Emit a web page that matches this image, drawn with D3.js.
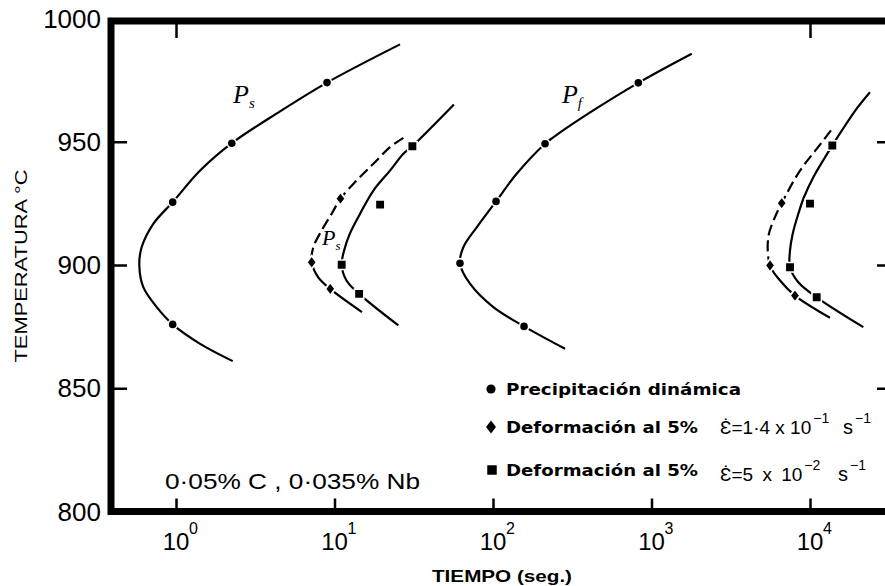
<!DOCTYPE html>
<html>
<head>
<meta charset="utf-8">
<script src="https://cdn.jsdelivr.net/npm/d3@7"></script>
<style>
  body { margin: 0; background: #fff; }
  svg { display: block; }
</style>
</head>
<body>
<div id="chart"></div>
<script>
// axis ticks
const decadeTicks = [1, 10, 100, 1000, 10000];
const decadeExponents = ["0", "1", "2", "3", "4"];
const tempTicks = [800, 850, 900, 950, 1000];
const innerTempTicks = [850, 900, 950];
const topTicks = [1, 10000];

// curves: time (s) and temperature (C)
// Ps, dynamic precipitation (circles)
const startDynTime = [25.9, 8.97, 4.53, 2.25, 1.42, 0.953, 0.719, 0.607, 0.587, 0.622, 0.756, 0.953, 1.42, 2.28];
const startDynTemp = [989.5, 974.0, 962.3, 949.4, 938.3, 925.5, 916.7, 907.2, 899.8, 891.0, 882.9, 875.9, 868.0, 861.0];
// Ps, 5% strain at 1.4e-1 /s (dashed above the nose)
const startFastTime = [27.2, 22.4, 17.6, 13.8, 10.9, 9.6, 8.3, 7.35, 7.18, 7.9, 9.4, 14.9];
const startFastTemp = [951.6, 947.8, 941.1, 934.3, 926.9, 920.8, 914.0, 907.2, 901.1, 895.0, 890.3, 880.9];
// Ps, 5% strain at 5e-2 /s
const startSlowTime = [56.7, 31.0, 27.2, 22.4, 17.6, 14.5, 12.5, 11.5, 11.1, 11.9, 14.3, 25.3];
const startSlowTemp = [965.1, 948.2, 945.1, 938.3, 930.2, 920.8, 912.7, 905.9, 900.1, 893.7, 888.3, 875.5];
// Pf, dynamic precipitation
const finishDynTime = [1793, 826, 429, 240, 213, 141, 104.5, 78.9, 65.0, 61.9, 71.6, 100.5, 157, 285];
const finishDynTemp = [985.7, 973.9, 962.7, 951.8, 949.2, 937.0, 925.8, 915.3, 907.2, 900.7, 892.4, 882.9, 875.1, 866.0];
// Pf, 5% strain at 1.4e-1 /s (dashed above the nose)
const finishFastTime = [13560, 11020, 8650, 6630, 6010, 5455, 5595, 6470, 8040, 13370];
const finishFastTemp = [954.6, 947.1, 938.3, 925.1, 919.4, 911.3, 899.8, 893.7, 887.6, 878.6];
// Pf, 5% strain at 5e-2 /s
const finishSlowTime = [23900, 19700, 13830, 12450, 10500, 9160, 8440, 7780, 7480, 7480, 8440, 11020, 21700];
const finishSlowTemp = [970.1, 963.4, 948.5, 943.7, 935.6, 927.5, 920.8, 912.7, 905.9, 899.1, 893.0, 886.9, 874.8];

// measured points
const circleTime = [8.97, 2.25, 0.953, 0.953, 826, 213, 104.5, 61.9, 157];
const circleTemp = [974.0, 949.4, 925.5, 875.9, 973.9, 949.2, 925.8, 900.7, 875.1];
const diamondTime = [10.9, 7.18, 9.4, 6630, 5595, 8040];
const diamondTemp = [926.9, 901.1, 890.3, 925.1, 899.8, 887.6];
const squareTime = [31.0, 19.4, 11.1, 14.3, 13830, 10000, 7480, 11020];
const squareTemp = [948.2, 924.5, 900.1, 888.3, 948.5, 924.9, 899.1, 886.9];

// curve labels
const curveLabelTime = [2.29, 8.34, 272];
const curveLabelTemp = [965.7, 908.1, 965.7];
const curveLabelSub = ["s", "s", "f"];

// legend
const legendLabels = ["Precipitación dinámica", "Deformación al 5%", "Deformación al 5%"];
const rateMantissa = ["1·4", "5"];
const rateExponent = ["−1", "−2"];

const W = 885, H = 586;
const numFont = "'Liberation Sans', Arial, sans-serif";

const svg = d3.select("#chart").append("svg")
    .attr("width", W)
    .attr("height", H);

const frame = {left: 111, top: 21, bottom: 511.5, right: 890};

const x = d3.scaleLog()
    .domain([1, 1e4])
    .range([176, 810]);
const y = d3.scaleLinear()
    .domain([800, 1000])
    .range([511.5, 18.5]);

// frame lines
svg.append("path")
    .attr("d", `M${W},${frame.top}H${frame.left}V${frame.bottom}H${W}`)
    .attr("fill", "none")
    .attr("stroke", "#000")
    .attr("stroke-width", 7)
    .attr("stroke-linejoin", "miter");

function styleTicks(g) {
  g.select(".domain").remove();
  g.selectAll(".tick line").attr("stroke", "#000").attr("stroke-width", 2.5);
  g.selectAll(".tick text").remove();
}

// bottom ticks pointing up
svg.append("g")
    .attr("transform", `translate(0,${frame.bottom})`)
    .call(d3.axisTop(x).tickValues(decadeTicks).tickSize(13).tickFormat(""))
    .call(styleTicks);

// top ticks pointing down
svg.append("g")
    .attr("transform", `translate(0,${frame.top})`)
    .call(d3.axisBottom(x).tickValues(topTicks).tickSize(17).tickFormat(""))
    .call(styleTicks);

// left ticks pointing right
svg.append("g")
    .attr("transform", `translate(${frame.left},0)`)
    .call(d3.axisRight(y).tickValues(innerTempTicks).tickSize(16).tickFormat(""))
    .call(styleTicks);

// right ticks (axis itself is just off the page)
svg.append("g")
    .attr("transform", `translate(${frame.right},0)`)
    .call(d3.axisLeft(y).tickValues(innerTempTicks).tickSize(13).tickFormat(""))
    .call(styleTicks);

// x tick labels 10^n
decadeTicks.forEach((d, i) => {
  svg.append("text")
      .attr("x", x(d))
      .attr("y", 550)
      .attr("text-anchor", "middle")
      .attr("font-family", numFont)
      .attr("font-size", 24)
      .text("10");
  svg.append("text")
      .attr("x", x(d) + 13)
      .attr("y", 534)
      .attr("font-family", numFont)
      .attr("font-size", 16)
      .text(decadeExponents[i]);
});

// y tick labels
svg.selectAll(".ylab")
  .data(tempTicks)
  .enter()
  .append("text")
    .attr("class", "ylab")
    .attr("x", 101)
    .attr("y", d => y(d) + 9)
    .attr("text-anchor", "end")
    .attr("font-family", numFont)
    .attr("font-size", 26)
    .text(d => d);

// axis titles
svg.append("text")
    .attr("transform", "translate(27,266) rotate(-90)")
    .attr("text-anchor", "middle")
    .attr("font-family", numFont)
    .attr("font-size", 17)
    .attr("textLength", 193)
    .attr("lengthAdjust", "spacingAndGlyphs")
    .text("TEMPERATURA °C");

svg.append("text")
    .attr("x", 432)
    .attr("y", 582)
    .attr("font-family", numFont)
    .attr("font-weight", "bold")
    .attr("font-size", 17)
    .attr("textLength", 140)
    .attr("lengthAdjust", "spacingAndGlyphs")
    .text("TIEMPO (seg.)");

// curves
const line = d3.line()
    .x(d => x(d[0]))
    .y(d => y(d[1]))
    .curve(d3.curveCatmullRom.alpha(0.5));

const zip = (a, b) => a.map((v, i) => [v, b[i]]);

const defs = svg.append("defs");
const splitY = y(900.5);
defs.append("clipPath").attr("id", "upper")
  .append("rect").attr("x", 0).attr("y", 0).attr("width", W).attr("height", splitY);
defs.append("clipPath").attr("id", "lower")
  .append("rect").attr("x", 0).attr("y", splitY).attr("width", W).attr("height", H - splitY);

const solidCurves = [
  zip(startDynTime, startDynTemp),
  zip(startSlowTime, startSlowTemp),
  zip(finishDynTime, finishDynTemp),
  zip(finishSlowTime, finishSlowTemp)
];
const dashedCurves = [
  zip(startFastTime, startFastTemp),
  zip(finishFastTime, finishFastTemp)
];

const curves = svg.append("g")
    .attr("fill", "none")
    .attr("stroke", "#000")
    .attr("stroke-width", 2.2);

curves.selectAll(".solid")
  .data(solidCurves)
  .enter()
  .append("path")
    .attr("class", "solid")
    .attr("d", line);

curves.selectAll(".dashUp")
  .data(dashedCurves)
  .enter()
  .append("path")
    .attr("class", "dashUp")
    .attr("clip-path", "url(#upper)")
    .attr("stroke-dasharray", "11,5")
    .attr("d", line);

curves.selectAll(".dashLow")
  .data(dashedCurves)
  .enter()
  .append("path")
    .attr("class", "dashLow")
    .attr("clip-path", "url(#lower)")
    .attr("d", line);

// markers (white halo breaks the line around each point)
const markers = svg.append("g")
    .attr("fill", "#000")
    .attr("stroke", "#fff")
    .attr("stroke-width", 1.6);

markers.selectAll(".circ")
  .data(zip(circleTime, circleTemp))
  .enter()
  .append("circle")
    .attr("cx", d => x(d[0]))
    .attr("cy", d => y(d[1]))
    .attr("r", 4.6);

const diamondPath = d3.symbol().type(d3.symbolDiamond).size(55)();
markers.selectAll(".dia")
  .data(zip(diamondTime, diamondTemp))
  .enter()
  .append("path")
    .attr("d", diamondPath)
    .attr("transform", d => `translate(${x(d[0])},${y(d[1])}) scale(1.25,0.95)`);

const squarePath = d3.symbol().type(d3.symbolSquare).size(90)();
markers.selectAll(".sq")
  .data(zip(squareTime, squareTemp))
  .enter()
  .append("path")
    .attr("d", squarePath)
    .attr("transform", d => `translate(${x(d[0])},${y(d[1])})`);

// curve labels P_s / P_f
curveLabelTime.forEach((t, i) => {
  const small = i === 1;
  const lab = svg.append("text")
      .attr("x", x(t))
      .attr("y", y(curveLabelTemp[i]))
      .attr("font-family", "'Liberation Serif', serif")
      .attr("font-style", "italic")
      .attr("font-size", small ? 22 : 26);
  lab.append("tspan").text("P");
  lab.append("tspan")
      .attr("dy", 5)
      .attr("font-size", small ? 13 : 15)
      .text(curveLabelSub[i]);
});

// legend
const legendRowY = [389, 427, 470];
const legend = svg.append("g");
legend.append("circle")
    .attr("cx", 491).attr("cy", legendRowY[0]).attr("r", 4.6);
legend.append("path")
    .attr("d", diamondPath)
    .attr("transform", `translate(491,${legendRowY[1]}) scale(1.25,0.95)`);
legend.append("path")
    .attr("d", squarePath)
    .attr("transform", `translate(492,${legendRowY[2]})`);

const legendWidths = [235, 192, 192];
legendLabels.forEach((s, i) => {
  legend.append("text")
      .attr("x", 506)
      .attr("y", legendRowY[i] + 6)
      .attr("font-family", "'DejaVu Sans', sans-serif")
      .attr("font-weight", "bold")
      .attr("font-size", 15)
      .attr("textLength", legendWidths[i])
      .attr("lengthAdjust", "spacingAndGlyphs")
      .text(s);
});

// strain rates, each piece as its own text placed after the measured one
const rateBase = [434, 481];
const rateWordGap = [0, 4];
const rateSX = [843, 838];
rateMantissa.forEach((m, i) => {
  const yb = rateBase[i];
  const main = legend.append("text")
      .attr("x", 720).attr("y", yb)
      .attr("font-family", numFont).attr("font-size", 19)
      .attr("word-spacing", rateWordGap[i])
      .text("Ɛ̇=" + m + " x 10");
  const mainEnd = 720 + main.node().getComputedTextLength();
  const sup = legend.append("text")
      .attr("x", mainEnd + 2).attr("y", yb - 11)
      .attr("font-family", numFont).attr("font-size", 14)
      .text(rateExponent[i]);
  const supEnd = mainEnd + 2 + sup.node().getComputedTextLength();
  const sx = Math.max(rateSX[i], supEnd + 6);
  legend.append("text")
      .attr("x", sx).attr("y", yb)
      .attr("font-family", numFont).attr("font-size", 20)
      .text("s");
  legend.append("text")
      .attr("x", sx + 12).attr("y", yb - 11)
      .attr("font-family", numFont).attr("font-size", 14)
      .text("−1");
});

// composition note
svg.append("text")
    .attr("x", 165)
    .attr("y", 489)
    .attr("font-family", numFont)
    .attr("font-size", 22)
    .attr("textLength", 255)
    .attr("lengthAdjust", "spacingAndGlyphs")
    .text("0·05% C , 0·035% Nb");
</script>
</body>
</html>
